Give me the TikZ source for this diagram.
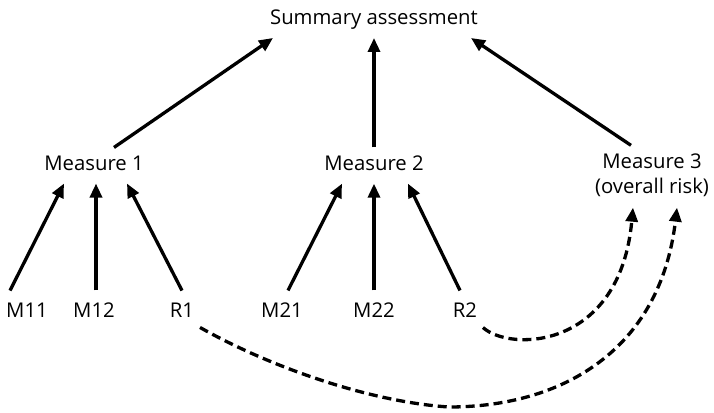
\documentclass[tikz,border=0pt]{standalone}
\usepackage{fontspec}
\setmainfont{Open Sans}
\usetikzlibrary{arrows.meta}
\begin{document}
\begin{tikzpicture}[x=1pt,y=1pt,
  lbl/.style={inner sep=0pt,font=\fontsize{20.3}{25}\selectfont},
  link/.style={line width=3.3pt,-{Triangle[length=14pt,width=12pt]}},
  dlink/.style={link,dash pattern=on 9pt off 5pt}]
\useasboundingbox (0,0) rectangle (714,412);
\node[lbl] (sum) at (374,392) {Summary assessment};
\node[lbl] (me1) at (94,249) {Measure 1};
\node[lbl] (me2) at (374,249) {Measure 2};
\node[lbl,align=center] (me3) at (652,237) {Measure 3\\(overall risk)};
\node[lbl] (m11) at (27,102) {M11};
\node[lbl] (m12) at (94,102) {M12};
\node[lbl] (r1) at (182,102) {R1};
\node[lbl] (m21) at (282,102) {M21};
\node[lbl] (m22) at (374,102) {M22};
\node[lbl] (r2) at (465,102) {R2};
% upper arrows
\draw[link] ([xshift=20pt,yshift=8pt]me1.north) -- ([xshift=-101pt,yshift=-8pt]sum.south);
\draw[link] ([yshift=8pt]me2.north) -- ([yshift=-8pt]sum.south);
\draw[link] ([xshift=-21pt,yshift=8pt]me3.north) -- ([xshift=97pt,yshift=-8pt]sum.south);
% lower arrows
\draw[link] ([xshift=-17pt,yshift=12pt]m11.north) -- ([xshift=-30pt,yshift=-13pt]me1.south);
\draw[link] ([xshift=2pt,yshift=12pt]m12.north) -- ([xshift=2pt,yshift=-13pt]me1.south);
\draw[link] ([yshift=12pt]r1.north) -- ([xshift=33pt,yshift=-13pt]me1.south);
\draw[link] ([xshift=6pt,yshift=12pt]m21.north) -- ([xshift=-32pt,yshift=-13pt]me2.south);
\draw[link] ([yshift=12pt]m22.north) -- ([yshift=-13pt]me2.south);
\draw[link] ([xshift=-5pt,yshift=12pt]r2.north) -- ([xshift=34pt,yshift=-13pt]me2.south);
% dashed arrows
\coordinate (b1) at (449,5);
\draw[dlink] ([xshift=18pt,yshift=-10pt]r2.south) .. controls (510,60) and (620,62) .. ([xshift=-19pt,yshift=-11pt]me3.south);
\draw[dlink] ([xshift=18pt,yshift=-10pt]r1.south) .. controls (270,45) and (370,10) .. (b1) .. controls (560,5) and (660,60) .. ([xshift=25pt,yshift=-11pt]me3.south);
\end{tikzpicture}
\end{document}
